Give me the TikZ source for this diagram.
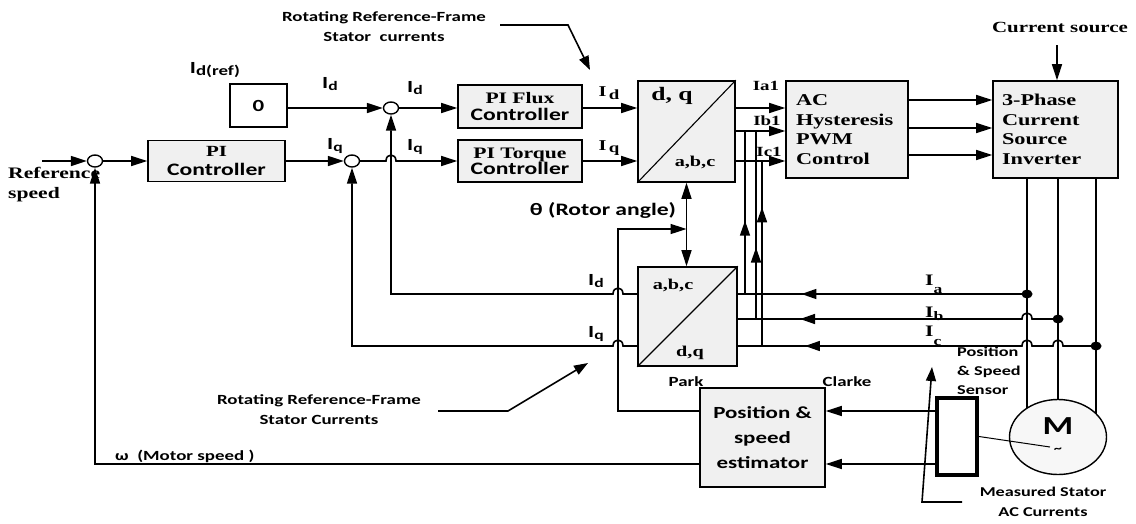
\documentclass[tikz,border=0pt]{standalone}
\usepackage{fontspec}
\setmainfont{Liberation Serif}[FakeStretch=1.35]
\newfontfamily\cfont{Carlito}[FakeStretch=1.35]
\usetikzlibrary{arrows.meta,shapes.geometric,decorations.markings,calc}
\newcommand\fs[2]{\fontsize{#1}{#2}\selectfont}
\newcommand\sbs[2]{\raisebox{-0.35ex}{\fontsize{#1}{#1}\selectfont #2}}
\newcommand\hopL[2]{-- ({#1+5},#2) .. controls ({#1+5},{#2-8}) and ({#1-5},{#2-8}) .. ({#1-5},#2)}
\newcommand\hopR[2]{-- ({#1-5},#2) .. controls ({#1-5},{#2-8}) and ({#1+5},{#2-8}) .. ({#1+5},#2)}
\tikzset{
  wire/.style={line width=1.6pt},
  tipA/.tip={Triangle[length=16pt,width=10pt]},
  arr/.style={wire,-tipA},
  midarr/.style={postaction=decorate,decoration={markings,mark=at position #1 with {\arrow{Triangle[length=15pt,width=10pt]}}}},
  blk/.style={draw,line width=1.6pt,fill=gray!12,inner sep=0pt,font=\bfseries},
  sumc/.style={draw,ellipse,line width=1.4pt,fill=white,minimum width=15pt,minimum height=12pt,inner sep=0pt},
  lbl/.style={inner sep=0pt,font=\cfont\bfseries},
  slbl/.style={inner sep=0pt,font=\bfseries},
}
\begin{document}
\begin{tikzpicture}[x=1pt,y=-1pt]
\useasboundingbox[fill=white] (0,0) rectangle (1136,523);
% ---------- blocks ----------
\node[blk,fill=white,minimum width=57pt,minimum height=43pt,font=\cfont\bfseries\fs{17}{20}] (zero) at (258.5,105.5) {0};
\node[blk,minimum width=137pt,minimum height=41pt,align=center,font=\bfseries\fs{15.5}{19.5}] (pic) at (216.5,161) {PI\\\cfont\fs{17.5}{19.5}Controller};
\node[sumc] (s1) at (95,161) {};
\node[sumc] (s2) at (352,161) {};
\node[sumc] (s3) at (391,108) {};
\node[blk,minimum width=124pt,minimum height=43pt,align=center,font=\bfseries\fs{16}{17}] (flux) at (520,106.5) {PI Flux\\\cfont\fs{17.5}{17}Controller};
\node[blk,minimum width=124pt,minimum height=42pt,align=center,font=\bfseries\fs{16}{16}] (torque) at (520,161) {PI Torque\\\cfont\fs{17.5}{16}Controller};
\node[blk,minimum width=97pt,minimum height=101pt] (dq) at (686.5,131.5) {};
\node[blk,minimum width=122pt,minimum height=97pt,text width=102pt,align=left,font=\bfseries\fs{16.5}{19.5}] (ach) at (847,129.5) {AC\\Hysteresis\\PWM\\Control};
\node[blk,minimum width=125pt,minimum height=97pt,text width=107pt,align=left,font=\bfseries\fs{16.5}{19.5}] (csi) at (1055.5,129.5) {3-Phase\\Current\\Source\\Inverter};
\node[blk,minimum width=99pt,minimum height=99pt] (park) at (687.5,316.5) {};
\node[blk,minimum width=125pt,minimum height=99pt,align=center,font=\cfont\bfseries\fs{17}{25}] (est) at (762.5,437.5) {Position \&\\speed\\estimator};
\node[draw,line width=4pt,minimum width=40pt,minimum height=77pt,inner sep=0pt] (sens) at (957,436.5) {};
\node[draw,ellipse,line width=1.4pt,fill=gray!6,minimum width=97pt,minimum height=75pt] (motor) at (1058,437) {};
\node[lbl] (mM) at (1058,426) {\fs{26}{26}M};
\node[lbl] (mtl) at (1058,450) {\fs{12}{12}\textasciitilde};
% diagonals
\draw[line width=1.1pt] (dq.south west) -- (dq.north east);
\draw[line width=1.1pt] (park.south west) -- (park.north east);
% ---------- coordinates ----------
\coordinate (in) at (42,161);
\coordinate (o1) at (0,108);
\coordinate (o2) at (0,131);
\coordinate (o3) at (0,161);
\coordinate (c1) at (0,100);
\coordinate (c2) at (0,128);
\coordinate (c3) at (0,155);
\coordinate (cs) at (1057,45);
\coordinate (m1) at (1027,408);
\coordinate (m2) at (1058,399.5);
\coordinate (m3) at (1096,414);
\coordinate (da) at (1027,294);
\coordinate (db) at (1058,319);
\coordinate (dc) at (1096,346);
\coordinate (yI1) at (0,294);
\coordinate (yI3) at (0,346);
\coordinate (yth) at (0,411);
\coordinate (ysp) at (0,464);
\coordinate (thc) at (618,229);
\coordinate (v1b) at (745,294);
\coordinate (v1t) at (745,131);
\coordinate (v2b) at (756,319);
\coordinate (v2t) at (756,131);
\coordinate (v3b) at (762,346);
\coordinate (v3t) at (762,161);
\coordinate (mt) at (1050,447);
\coordinate (a1s) at (500,25);
\coordinate (a1m) at (568,25);
\coordinate (a1e) at (590,70);
\coordinate (a2s) at (438,411);
\coordinate (a2m) at (508,411);
\coordinate (a2e) at (588,363);
\coordinate (a3s) at (962,502);
\coordinate (a3m) at (922,502);
\coordinate (a3e) at (932,367);
% ---------- forward path ----------
\draw[arr] (in) -- (s1.west);
\draw[arr] (s1.east) -- (pic.west |- s1.east);
\draw[arr] (pic.east |- s2.west) -- (s2.west);
\draw[arr] (zero.east |- s3.west) -- (s3.west);
\draw[arr] (s3.east) -- (flux.west |- s3.east);
\draw[arr] (s2.east) \hopR{391}{161} -- (torque.west |- s2.east);
\draw[arr] (flux.east |- s3.east) -- (dq.west |- s3.east);
\draw[arr] (torque.east) -- (dq.west |- torque.east);
\draw[arr] (dq.east |- o1) -- (ach.west |- o1);
\draw[arr] (dq.east |- o2) -- (ach.west |- o2);
\draw[arr] (dq.east |- o3) -- (ach.west |- o3);
\draw[arr] (ach.east |- c1) -- (csi.west |- c1);
\draw[arr] (ach.east |- c2) -- (csi.west |- c2);
\draw[arr] (ach.east |- c3) -- (csi.west |- c3);
\draw[arr] (cs) -- (cs |- csi.north);
\draw[wire] (m1 |- csi.south) -- (m1);
\draw[wire] (m2 |- csi.south) -- (m2);
\draw[wire] (m3 |- csi.south) -- (m3);
% ---------- measured currents ----------
\fill (da) ellipse [x radius=5.5pt,y radius=4.5pt];
\fill (db) ellipse [x radius=5.5pt,y radius=4.5pt];
\fill (dc) ellipse [x radius=5.5pt,y radius=4.5pt];
\draw[wire,midarr=0.78] (da) -- (park.east |- da);
\draw[wire,midarr=0.81] (db) \hopL{1027}{319} -- (park.east |- db);
\draw[wire,midarr=0.82] (dc) \hopL{1058}{346} \hopL{1027}{346} -- (park.east |- dc);
\draw[wire,midarr=0.45] (v1b) -- (v1t);
\draw[wire,midarr=0.38] (v2b) -- (v2t);
\draw[wire,midarr=0.75] (v3b) -- (v3t);
% ---------- rotor angle ----------
\draw[wire,tipA-tipA] (dq.south) -- (dq.south |- park.north);
\draw[arr] (est.west |- yth) -| (thc) -- (dq.south |- thc);
% ---------- feedbacks ----------
\draw[arr] (park.west |- yI1) \hopL{618}{294} -| (s3.south);
\draw[arr] (park.west |- yI3) \hopL{618}{346} -| (s2.south);
\draw[arr] (est.west |- ysp) -| (s1.south);
\draw[arr] (sens.west |- yth) -- (est.east |- yth);
\draw[arr] (sens.west |- ysp) -- (est.east |- ysp);
\draw[line width=1pt] (sens.east) -- (mt);
% ---------- annotation arrows ----------
\draw[wire,-{Triangle[length=14pt,width=10pt]}] (a1s) -- (a1m) -- (a1e);
\draw[wire,-{Triangle[length=14pt,width=10pt]}] (a2s) -- (a2m) -- (a2e);
\draw[wire,-{Triangle[length=14pt,width=10pt]}] (a3s) -- (a3m) -- (a3e);
% ---------- texts ----------
\node[lbl,align=center,font=\cfont\bfseries\fs{14}{20}] (t1) at (384,27) {Rotating Reference-Frame\\Stator\ \ currents};
\node[lbl,align=center,font=\cfont\bfseries\fs{14}{20}] (t2) at (319,410) {Rotating Reference-Frame\\Stator Currents};
\node[lbl,align=center,font=\cfont\bfseries\fs{13.5}{20}] (t3) at (1043,502) {Measured Stator\\AC Currents};
\node[slbl] (t4) at (1060,27) {\fs{15.5}{16}Current source};
\node[lbl] (t5) at (603,210) {\fs{17.5}{18}θ (Rotor angle)};
\node[lbl,anchor=west] (t6) at (115,456) {\fs{14}{14}ω\ \ (Motor speed )};
\node[slbl,anchor=west,align=left,font=\bfseries\fs{16}{20}] (t7) at (8,185) {Reference\\speed};
\node[lbl] (t8) at (686,382) {\fs{14}{14}Park};
\node[lbl] (t9) at (847,382) {\fs{14}{14}Clarke};
\node[lbl,anchor=west,align=left,font=\cfont\bfseries\fs{13.5}{19}] (t10) at (957,371) {Position\\\& Speed\\Sensor};
\node[lbl] (t11) at (215,70) {\fs{17}{17}I\sbs{14}{d(ref)}};
\node[lbl] (t12) at (330,84) {\fs{17}{17}I\sbs{13}{d}};
\node[lbl] (t13) at (415,88) {\fs{17}{17}I\sbs{13}{d}};
\node[lbl] (t14) at (335,146) {\fs{17}{17}I\sbs{13}{q}};
\node[lbl] (t15) at (415,147) {\fs{17}{17}I\sbs{13}{q}};
\node[slbl] (t16) at (609,93) {\fs{15}{15}I\,\sbs{14}{d}};
\node[slbl] (t17) at (609,148) {\fs{15}{15}I\,\sbs{14}{q}};
\node[lbl] (t18) at (596,281) {\fs{17}{17}I\sbs{13}{d}};
\node[lbl] (t19) at (596,334) {\fs{17}{17}I\sbs{13}{q}};
\node[slbl] (t20) at (766,86) {\fs{14}{14}Ia1};
\node[slbl] (t21) at (767,121) {\fs{14}{14}Ib1};
\node[slbl] (t22) at (769,152) {\fs{14}{14}Ic1};
\node[slbl,anchor=west] (t23) at (925,284) {\fs{16}{16}I\raisebox{-8pt}{\fs{13}{13}a}};
\node[slbl,anchor=west] (t24) at (925,314) {\fs{16}{16}I\sbs{13}{b}};
\node[slbl,anchor=west] (t25) at (925,336) {\fs{16}{16}I\raisebox{-9pt}{\fs{13}{13}c}};
\node[slbl] (t26) at (672,96) {\fs{19}{19}d, q};
\node[slbl] (t27) at (695,162) {\fs{15}{15}a,b,c};
\node[slbl] (t28) at (673,285) {\fs{15}{15}a,b,c};
\node[slbl] (t29) at (690,353) {\fs{15}{15}d,q};
\end{tikzpicture}
\end{document}
